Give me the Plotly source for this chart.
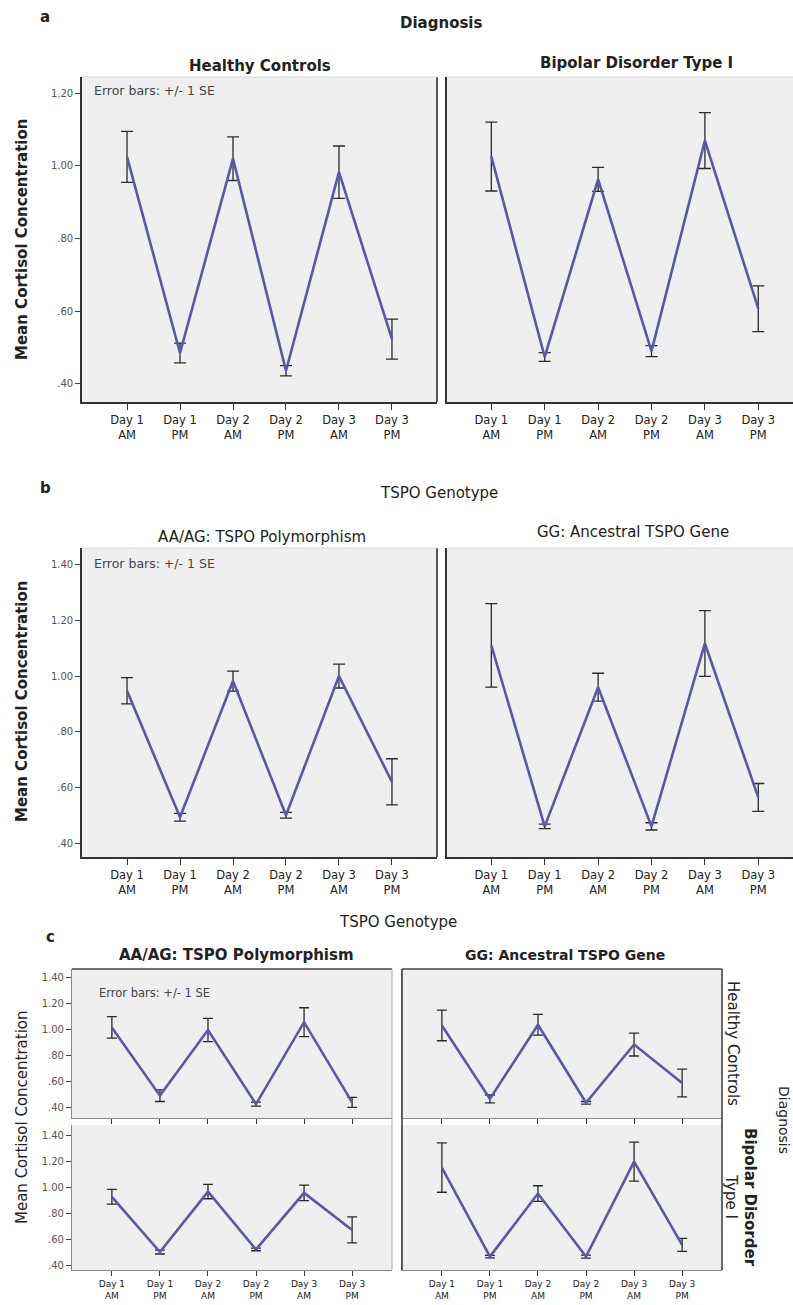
import plotly.graph_objects as go

W, H = 793, 1305

categories = ["Day 1<br>AM", "Day 1<br>PM", "Day 2<br>AM", "Day 2<br>PM", "Day 3<br>AM", "Day 3<br>PM"]

# Panel a: Diagnosis
a_hc_mean = [1.025, 0.485, 1.02, 0.436, 0.983, 0.523]
a_hc_se = [0.07, 0.027, 0.06, 0.014, 0.072, 0.055]
a_bd_mean = [1.026, 0.474, 0.963, 0.49, 1.07, 0.607]
a_bd_se = [0.095, 0.012, 0.033, 0.015, 0.077, 0.063]

# Panel b: TSPO genotype
b_aa_mean = [0.947, 0.493, 0.982, 0.50, 1.0, 0.62]
b_aa_se = [0.047, 0.014, 0.036, 0.01, 0.043, 0.083]
b_gg_mean = [1.11, 0.46, 0.96, 0.46, 1.117, 0.564]
b_gg_se = [0.15, 0.008, 0.05, 0.013, 0.118, 0.05]

# Panel c: genotype x diagnosis
c_aa_hc_mean = [1.02, 0.495, 1.0, 0.43, 1.06, 0.443]
c_aa_hc_se = [0.083, 0.045, 0.09, 0.015, 0.111, 0.038]
c_gg_hc_mean = [1.035, 0.47, 1.04, 0.44, 0.888, 0.592]
c_gg_hc_se = [0.118, 0.03, 0.08, 0.01, 0.088, 0.107]
c_aa_bd_mean = [0.925, 0.50, 0.965, 0.52, 0.955, 0.67]
c_aa_bd_se = [0.057, 0.015, 0.055, 0.01, 0.06, 0.10]
c_gg_bd_mean = [1.15, 0.465, 0.95, 0.465, 1.195, 0.555]
c_gg_bd_se = [0.19, 0.01, 0.06, 0.012, 0.15, 0.05]

ytick_vals_a = [0.4, 0.6, 0.8, 1.0, 1.2]
ytick_text_a = [".40", ".60", ".80", "1.00", "1.20"]
ytick_vals_bc = [0.4, 0.6, 0.8, 1.0, 1.2, 1.4]
ytick_text_bc = [".40", ".60", ".80", "1.00", "1.20", "1.40"]

FONT = "DejaVu Sans"
LINE_COLOR = "#5858a8"
ERR_COLOR = "#2a2a2a"
BG = "#efefef"


def X(px):
    return px / W


def Y(py):
    return 1 - py / H


panels = [
    (a_hc_mean, a_hc_se, (82, 437), (77, 402), (-0.85, 5.85), (0.35, 1.245), (ytick_vals_a, ytick_text_a), True, True, 11.5, 6),
    (a_bd_mean, a_bd_se, (447, 793), (77, 402), (-0.83, 5.65), (0.35, 1.245), (ytick_vals_a, ytick_text_a), False, True, 11.5, 6),
    (b_aa_mean, b_aa_se, (82, 437), (548, 857), (-0.85, 5.85), (0.35, 1.46), (ytick_vals_bc, ytick_text_bc), True, True, 11.5, 6),
    (b_gg_mean, b_gg_se, (447, 793), (548, 857), (-0.83, 5.65), (0.35, 1.46), (ytick_vals_bc, ytick_text_bc), False, True, 11.5, 6),
    (c_aa_hc_mean, c_aa_hc_se, (72, 392), (969, 1118), (-0.83, 5.83), (0.323, 1.469), (ytick_vals_bc, ytick_text_bc), True, False, 9, 5),
    (c_gg_hc_mean, c_gg_hc_se, (402, 722), (969, 1118), (-0.83, 5.83), (0.323, 1.469), (ytick_vals_bc, ytick_text_bc), False, False, 9, 5),
    (c_aa_bd_mean, c_aa_bd_se, (72, 392), (1125, 1270), (-0.83, 5.83), (0.362, 1.477), (ytick_vals_bc, ytick_text_bc), True, True, 9, 5),
    (c_gg_bd_mean, c_gg_bd_se, (402, 722), (1125, 1270), (-0.83, 5.83), (0.362, 1.477), (ytick_vals_bc, ytick_text_bc), False, True, 9, 5),
]

fig = go.Figure()
layout_axes = {}
for i, (means, ses, xd, yd, xr, yr, yt, show_y, show_x, xfs, capw) in enumerate(panels):
    n = i + 1
    xa = "x" if n == 1 else f"x{n}"
    ya = "y" if n == 1 else f"y{n}"
    fig.add_trace(go.Scatter(
        x=list(range(len(categories))), y=means,
        mode="lines",
        line=dict(color=LINE_COLOR, width=2.6),
        error_y=dict(type="data", array=ses, visible=True, color=ERR_COLOR, thickness=1.3, width=capw),
        xaxis=xa, yaxis=ya, showlegend=False, hoverinfo="skip",
    ))
    is_c = i >= 4
    layout_axes["xaxis" if n == 1 else f"xaxis{n}"] = dict(
        domain=[X(xd[0]), X(xd[1])], range=list(xr), anchor=ya,
        tickvals=list(range(len(categories))), ticktext=categories,
        showticklabels=show_x, ticks="outside", ticklen=6 if not is_c else 5,
        tickcolor="#333", tickwidth=1.2,
        tickfont=dict(family=FONT, size=xfs, color="#222"),
        showgrid=False, zeroline=False, showline=True,
        linecolor="#333" if not is_c else "#888", linewidth=1.6 if not is_c else 1.2,
        fixedrange=True,
    )
    layout_axes["yaxis" if n == 1 else f"yaxis{n}"] = dict(
        domain=[Y(yd[1]), Y(yd[0])], range=list(yr), anchor=xa,
        tickvals=yt[0], ticktext=yt[1],
        showticklabels=show_y, ticks="outside" if show_y else "", ticklen=5,
        tickcolor="#444", tickwidth=1.2,
        tickfont=dict(family=FONT, size=10, color="#555"),
        showgrid=False, zeroline=False, showline=True,
        linecolor="#333" if not is_c else "#888", linewidth=1.6 if not is_c else 1.2,
        fixedrange=True,
    )

shapes = []
for (y0, y1) in [(77, 402), (548, 857)]:
    shapes.append(dict(type="line", xref="paper", yref="paper", x0=X(437), x1=X(437), y0=Y(y0), y1=Y(y1),
                       line=dict(color="#333", width=1.6)))
    shapes.append(dict(type="line", xref="paper", yref="paper", x0=X(82), x1=X(437), y0=Y(y0), y1=Y(y0),
                       line=dict(color="#d6d6d6", width=1)))
    shapes.append(dict(type="line", xref="paper", yref="paper", x0=X(447), x1=X(793), y0=Y(y0), y1=Y(y0),
                       line=dict(color="#d6d6d6", width=1)))
for (x0, x1) in [(72, 392), (402, 722)]:
    shapes.append(dict(type="line", xref="paper", yref="paper", x0=X(x0), x1=X(x1), y0=Y(969), y1=Y(969),
                       line=dict(color="#444", width=1.6)))
for xp in [402, 722]:
    shapes.append(dict(type="line", xref="paper", yref="paper", x0=X(xp), x1=X(xp), y0=Y(969), y1=Y(1270),
                       line=dict(color="#444", width=1.6)))
shapes.append(dict(type="line", xref="paper", yref="paper", x0=X(392), x1=X(392), y0=Y(969), y1=Y(1270),
                   line=dict(color="#aaa", width=1)))


def ann(text, px, py, size=15, bold=False, xanchor="center", yanchor="middle", angle=0, color="#222"):
    t = f"<b>{text}</b>" if bold else text
    return dict(text=t, x=X(px), y=Y(py), xref="paper", yref="paper", showarrow=False,
                xanchor=xanchor, yanchor=yanchor, textangle=angle,
                font=dict(family=FONT, size=size, color=color))


annotations = [
    ann("a", 45, 17, 15, True),
    ann("Diagnosis", 442, 23, 15, True),
    ann("Healthy Controls", 260, 66, 15, True),
    ann("Bipolar Disorder Type I", 636, 63, 15, True),
    ann("Error bars: +/- 1 SE", 92, 90, 12.5, False, "left", color="#444"),
    ann("Mean Cortisol Concentration", 22, 240, 15, True, angle=-90),

    ann("b", 45, 488, 15, True),
    ann("TSPO Genotype", 439, 493, 15, False),
    ann("AA/AG: TSPO Polymorphism", 262, 537, 15, False),
    ann("GG: Ancestral TSPO Gene", 633, 532, 15, False),
    ann("Error bars: +/- 1 SE", 92, 563, 12.5, False, "left", color="#444"),
    ann("Mean Cortisol Concentration", 22, 702, 15, True, angle=-90),

    ann("TSPO Genotype", 398, 922, 15, False),
    ann("c", 50, 937, 15, True),
    ann("AA/AG: TSPO Polymorphism", 236, 955, 15, True),
    ann("GG: Ancestral TSPO Gene", 565, 955, 14, True),
    ann("Error bars: +/- 1 SE", 97, 993, 11.5, False, "left", color="#444"),
    ann("Mean Cortisol Concentration", 22, 1117, 15, False, angle=-90),
    ann("Healthy Controls", 733, 1043, 15, False, angle=90),
    ann("<b>Bipolar Disorder</b><br>Type I", 740, 1197, 15, False, angle=90),
    ann("Diagnosis", 784, 1120, 14, False, angle=90),
]

fig.update_layout(
    width=W, height=H,
    margin=dict(l=0, r=0, t=0, b=0),
    paper_bgcolor="white", plot_bgcolor=BG,
    shapes=shapes, annotations=annotations,
    showlegend=False,
    **layout_axes,
)

fig.write_html("out.html", config={"displayModeBar": False},
               post_script="document.body.style.margin='0';document.body.style.overflow='hidden';")
